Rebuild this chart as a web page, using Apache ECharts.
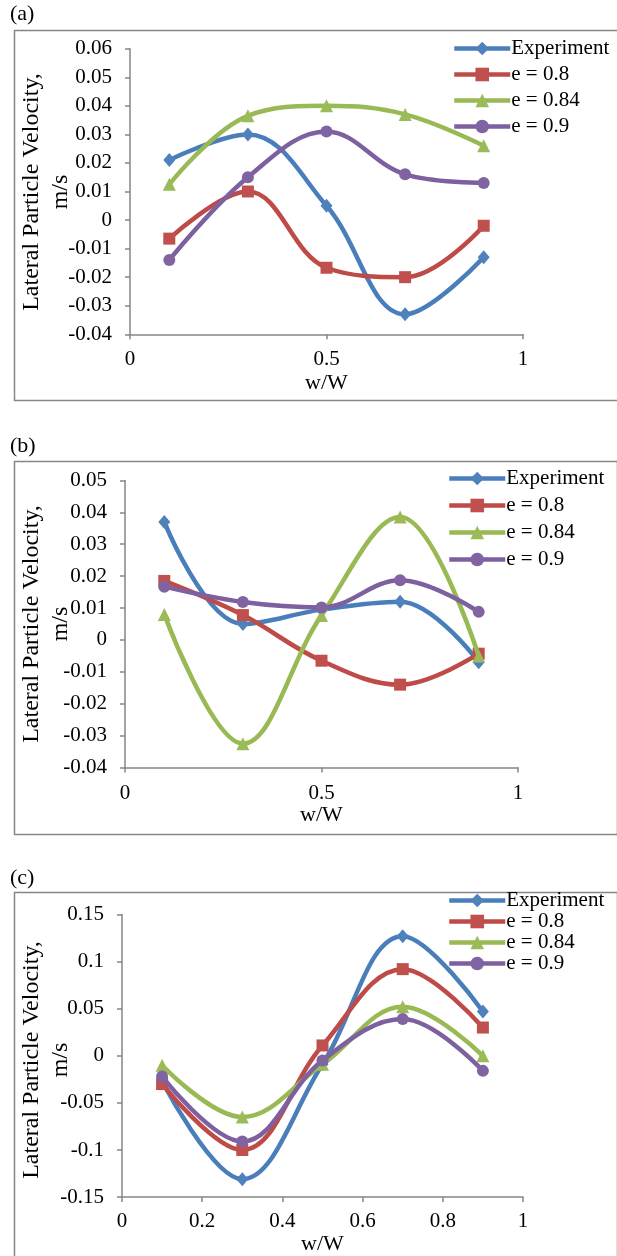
<!DOCTYPE html>
<html>
<head>
<meta charset="utf-8">
<script src="https://cdn.jsdelivr.net/npm/echarts@6/dist/echarts.min.js"></script>
<style>
  html, body { margin: 0; padding: 0; background: #fff; }
  #chart { width: 617px; height: 1256px; }
</style>
</head>
<body>
<div id="chart"></div>
<script>
// x positions (w/W)
var xValues = [0.1, 0.3, 0.5, 0.7, 0.9];
var seriesNames = ["Experiment", "e = 0.8", "e = 0.84", "e = 0.9"];

// panel (a)
var aExperiment = [0.021, 0.030, 0.005, -0.033, -0.013];
var aE08 = [-0.0065, 0.010, -0.0167, -0.020, -0.002];
var aE084 = [0.0125, 0.0365, 0.040, 0.037, 0.026];
var aE09 = [-0.014, 0.015, 0.031, 0.016, 0.013];

// panel (b)
var bExperiment = [0.037, 0.005, 0.0095, 0.012, -0.007];
var bE08 = [0.0185, 0.0078, -0.0065, -0.014, -0.0043];
var bE084 = [0.008, -0.0325, 0.0077, 0.0385, -0.005];
var bE09 = [0.0167, 0.0119, 0.0102, 0.0187, 0.0088];

// panel (c)
var cExperiment = [-0.027, -0.131, -0.009, 0.127, 0.047];
var cE08 = [-0.030, -0.100, 0.011, 0.092, 0.030];
var cE084 = [-0.010, -0.065, -0.009, 0.052, 0.000];
var cE09 = [-0.022, -0.091, -0.005, 0.039, -0.016];

var panelLabels = ["(a)", "(b)", "(c)"];
var yTitle = "Lateral Particle Velocity,\nm/s";

var FONT = "Liberation Serif";
var AXIS_COLOR = "#868686";
var lineColors = ["#4A7EBB", "#BE4B48", "#98B954", "#7D60A0"];
var markColors = ["#4F81BD", "#C0504D", "#9BBB59", "#8064A2"];
var symbols = ["diamond", "rect", "triangle", "circle"];
var symbolSizes = [[12, 14], 12, 13, 12];

var panels = [
  { data: [aExperiment, aE08, aE084, aE09], grid: { left: 130, top: 48.7, width: 393, height: 285.6 },
    y: { min: -0.04, max: 0.06, interval: 0.01 }, x: { interval: 0.5 }, xNameGap: 38, xMargin: 15,
    legend: { left: 452, top: 38, itemGap: 5 }, titleY: 192 },
  { data: [bExperiment, bE08, bE084, bE09], grid: { left: 125, top: 480.4, width: 393, height: 287.2 },
    y: { min: -0.04, max: 0.05, interval: 0.01 }, x: { interval: 0.5 }, xNameGap: 35, xMargin: 15,
    legend: { left: 447, top: 468, itemGap: 6 }, titleY: 624 },
  { data: [cExperiment, cE08, cE084, cE09], grid: { left: 122, top: 914.5, width: 401, height: 290 },
    y: { min: -0.15, max: 0.15, interval: 0.05 }, x: { interval: 0.2 }, xNameGap: 29, xMargin: 14,
    legend: { left: 447, top: 890, itemGap: 0 }, titleY: 1060 }
];

var chart = echarts.init(document.getElementById("chart"));

var grids = [], xAxes = [], yAxes = [], legends = [], series = [];

panels.forEach(function (p, i) {
  grids.push(p.grid);
  xAxes.push({
    type: "value", gridIndex: i, min: 0, max: 1, interval: p.x.interval,
    name: "w/W", nameLocation: "middle", nameGap: p.xNameGap,
    nameTextStyle: { fontFamily: FONT, fontSize: 22, color: "#000" },
    axisLine: { onZero: false, lineStyle: { color: AXIS_COLOR, width: 1.5 } },
    axisTick: { show: true, length: 5, lineStyle: { color: AXIS_COLOR, width: 1.5 } },
    axisLabel: { fontFamily: FONT, fontSize: 21, color: "#000", margin: p.xMargin },
    splitLine: { show: false }
  });
  yAxes.push({
    type: "value", gridIndex: i, min: p.y.min, max: p.y.max, interval: p.y.interval,
    axisLine: { show: true, lineStyle: { color: AXIS_COLOR, width: 1.5 } },
    axisTick: { show: true, length: 5, lineStyle: { color: AXIS_COLOR, width: 1.5 } },
    axisLabel: { fontFamily: FONT, fontSize: 21, color: "#000", margin: 18 },
    splitLine: { show: false }
  });
  legends.push({
    orient: "vertical", left: p.legend.left, top: p.legend.top, itemGap: p.legend.itemGap,
    itemWidth: 56, itemHeight: 17, padding: 0,
    data: seriesNames,
    lineStyle: { width: 4.5 },
    textStyle: { fontFamily: FONT, fontSize: 21, color: "#000", padding: [0, 0, 0, -4] }
  });
  // later series drawn on top, like the original
  p.data.forEach(function (vals, k) {
    series.push({
      name: seriesNames[k], type: "line", xAxisIndex: i, yAxisIndex: i,
      smooth: 0.38,
      symbol: symbols[k], symbolSize: symbolSizes[k],
      lineStyle: { color: lineColors[k], width: 4.5 },
      itemStyle: { color: markColors[k], borderWidth: 0 },
      data: xValues.map(function (x, j) { return [x, vals[j]]; }),
      z: 2 + k
    });
  });
});

var boxes = [
  { x: 12, y: 28, w: 604, h: 370, labelY: 15 },
  { x: 12, y: 459, w: 603, h: 373, labelY: 447 },
  { x: 12, y: 890, w: 603, h: 380, labelY: 879 }
];
var graphics = [];
boxes.forEach(function (b, i) {
  graphics.push({
    type: "rect", left: b.x, top: b.y, silent: true, z: -1,
    shape: { width: b.w, height: b.h },
    style: { fill: null, stroke: AXIS_COLOR, lineWidth: 1.5 }
  });
  graphics.push({
    type: "text", left: 10, top: b.labelY - 12, silent: true,
    style: { text: panelLabels[i], font: "22px " + FONT, fill: "#000" }
  });
  // rotated y-axis title, two lines
  graphics.push({
    type: "text", x: 46, y: panels[i].titleY, rotation: Math.PI / 2, silent: true,
    style: {
      text: yTitle, font: "24px " + FONT, fill: "#000", lineHeight: 29,
      align: "center", verticalAlign: "middle"
    }
  });
});

chart.setOption({
  animation: false,
  backgroundColor: "#fff",
  grid: grids,
  xAxis: xAxes,
  yAxis: yAxes,
  legend: legends,
  series: series,
  graphic: graphics
});
</script>
</body>
</html>
